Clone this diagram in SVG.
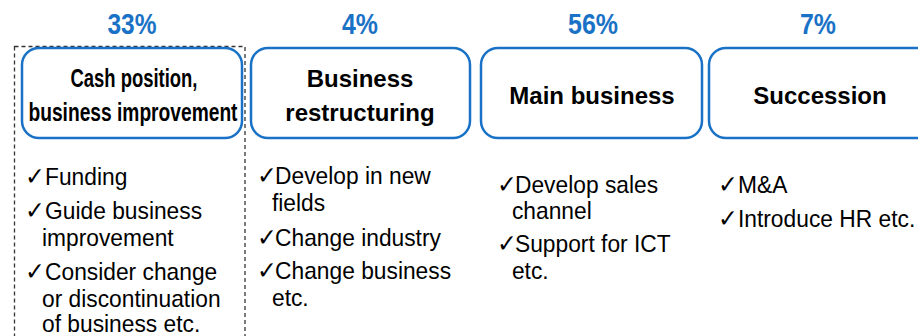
<svg xmlns="http://www.w3.org/2000/svg" width="918" height="336" viewBox="0 0 918 336">
<style>
.pct{font-family:"Liberation Sans",Arial,sans-serif;font-weight:bold;font-size:30px;fill:#1a72c6;text-anchor:middle}
.box{fill:#fff;stroke:#1a72c6;stroke-width:2.5}
.ttl{font-family:"Liberation Sans",Arial,sans-serif;font-weight:bold;font-size:24px;fill:#000;text-anchor:middle}
.ttl2{font-family:"Liberation Sans",Arial,sans-serif;font-weight:bold;font-size:25px;fill:#000;text-anchor:middle}
.bd{font-family:"Liberation Sans",Arial,sans-serif;font-size:24px;fill:#000}
.ck{font-family:"DejaVu Sans",sans-serif;font-size:25px}
.dash{fill:none;stroke:#333;stroke-width:1.3;stroke-dasharray:4 3}
</style>
<rect width="918" height="336" fill="#fff"/>
<g id="connectors"></g>
<rect class="dash" x="14.5" y="46.5" width="230.5" height="300"/>
<g id="col1">
<text class="pct" x="132" y="34" textLength="49" lengthAdjust="spacingAndGlyphs">33%</text>
<rect class="box" x="22" y="48" width="220" height="90" rx="17"/>
<text class="ttl2" x="134" y="87" textLength="127" lengthAdjust="spacingAndGlyphs">Cash position,</text>
<text class="ttl2" x="133" y="121" textLength="209" lengthAdjust="spacingAndGlyphs">business improvement</text>
<g transform="scale(0.95 1)">
<text class="bd" x="26.3" y="185"><tspan class="ck">✓</tspan><tspan x="47.4">Funding</tspan></text>
<text class="bd" x="26.3" y="219"><tspan class="ck">✓</tspan><tspan x="47.4">Guide business</tspan></text>
<text class="bd" x="44.2" y="246">improvement</text>
<text class="bd" x="26.3" y="280"><tspan class="ck">✓</tspan><tspan x="47.4">Consider change</tspan></text>
<text class="bd" x="44.2" y="307">or discontinuation</text>
<text class="bd" x="44.2" y="332">of business etc.</text>
</g>
</g>
<g id="col2">
<text class="pct" x="360" y="34" textLength="36" lengthAdjust="spacingAndGlyphs">4%</text>
<rect class="box" x="251" y="48" width="219" height="90" rx="17"/>
<text class="ttl" x="360" y="87">Business</text>
<text class="ttl" x="360" y="121">restructuring</text>
<g transform="scale(0.95 1)">
<text class="bd" x="270.5" y="184"><tspan class="ck">✓</tspan><tspan x="289.5">Develop in new</tspan></text>
<text class="bd" x="286.3" y="211">fields</text>
<text class="bd" x="270.5" y="246"><tspan class="ck">✓</tspan><tspan x="289.5">Change industry</tspan></text>
<text class="bd" x="270.5" y="279"><tspan class="ck">✓</tspan><tspan x="289.5">Change business</tspan></text>
<text class="bd" x="286.3" y="306">etc.</text>
</g>
</g>
<g id="col3">
<text class="pct" x="593" y="34" textLength="50" lengthAdjust="spacingAndGlyphs">56%</text>
<rect class="box" x="481" y="48" width="221" height="90" rx="17"/>
<text class="ttl" x="592" y="104">Main business</text>
<g transform="scale(0.95 1)">
<text class="bd" x="523.2" y="193"><tspan class="ck">✓</tspan><tspan x="542.1">Develop sales</tspan></text>
<text class="bd" x="538.9" y="219">channel</text>
<text class="bd" x="523.2" y="252"><tspan class="ck">✓</tspan><tspan x="542.1">Support for ICT</tspan></text>
<text class="bd" x="538.9" y="279">etc.</text>
</g>
</g>
<g id="col4">
<text class="pct" x="818" y="34" textLength="36" lengthAdjust="spacingAndGlyphs">7%</text>
<rect class="box" x="709" y="48" width="240" height="90" rx="17"/>
<text class="ttl" x="820" y="104">Succession</text>
<g transform="scale(0.95 1)">
<text class="bd" x="755.8" y="193"><tspan class="ck">✓</tspan><tspan x="776.8">M&amp;A</tspan></text>
<text class="bd" x="755.8" y="227"><tspan class="ck">✓</tspan><tspan x="776.8">Introduce HR etc.</tspan></text>
</g>
</g>
</svg>
